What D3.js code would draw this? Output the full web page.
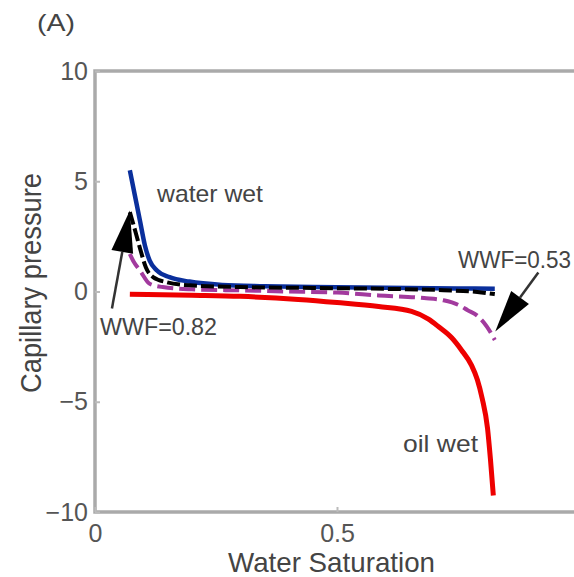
<!DOCTYPE html>
<html>
<head>
<meta charset="utf-8">
<script src="https://cdn.jsdelivr.net/npm/d3@7"></script>
<style>
  html, body { margin: 0; padding: 0; background: #fff; }
  svg { display: block; font-family: "Liberation Sans", Arial, sans-serif; }
</style>
</head>
<body>
<svg id="chart" width="574" height="577"></svg>
<script>
// Capillary pressure vs. water saturation for different wettability states
const xTicks = [0, 0.5];
const yTicks = [-10, -5, 0, 5, 10];

// water wet (blue)
const swWaterWet = [0.072, 0.082, 0.093, 0.103, 0.113, 0.128, 0.154, 0.195, 0.263, 0.35, 0.45, 0.55, 0.65, 0.75, 0.826];
const pcWaterWet = [5.5, 4.4, 3.2, 2.1, 1.4, 0.95, 0.65, 0.45, 0.3, 0.24, 0.2, 0.18, 0.16, 0.14, 0.13];

// WWF = 0.82 (black dashed)
const swWWF082 = [0.072, 0.085, 0.095, 0.105, 0.12, 0.148, 0.195, 0.3, 0.45, 0.6, 0.72, 0.79, 0.826];
const pcWWF082 = [3.6, 2.6, 1.8, 1.1, 0.65, 0.42, 0.28, 0.2, 0.16, 0.12, 0.06, -0.02, -0.12];

// WWF = 0.53 (purple dashed)
const swWWF053 = [0.072, 0.08, 0.093, 0.113, 0.14, 0.2, 0.3, 0.4, 0.5, 0.586, 0.68, 0.72, 0.75, 0.77, 0.79, 0.81, 0.826];
const pcWWF053 = [1.7, 1.35, 0.95, 0.35, 0.2, 0.1, 0.05, 0.0, -0.05, -0.18, -0.3, -0.4, -0.6, -0.85, -1.1, -1.6, -2.2];

// oil wet (red)
const swOilWet = [0.072, 0.2, 0.3, 0.42, 0.5, 0.586, 0.654, 0.689, 0.71, 0.737, 0.757, 0.778, 0.79, 0.8, 0.811, 0.817, 0.823];
const pcOilWet = [-0.12, -0.17, -0.22, -0.36, -0.5, -0.68, -0.9, -1.25, -1.6, -2.1, -2.65, -3.35, -4.0, -4.85, -6.2, -7.6, -9.25];

// annotation arrows: [tail Sw, tail Pc, tip Sw, tip Pc]
const arrowWWF082 = [0.035, -0.77, 0.072, 3.67];
const arrowWWF053 = [0.916, 0.86, 0.827, -1.81];

const svg = d3.select("#chart");

const x = d3.scaleLinear().domain([0, 1]).range([95, 579]);
const y = d3.scaleLinear().domain([-10, 10]).range([512, 71]);

// frame
svg.append("rect")
  .attr("x", x(0)).attr("y", y(10))
  .attr("width", x(1) - x(0)).attr("height", y(-10) - y(10))
  .attr("fill", "none").attr("stroke", "#aaaaaa").attr("stroke-width", 3.5);

// axes
const yAxis = svg.append("g")
  .attr("transform", `translate(${x(0)},0)`)
  .call(d3.axisLeft(y).tickValues(yTicks).tickSizeInner(-5).tickSizeOuter(0).tickPadding(7)
    .tickFormat(d => d < 0 ? "\u2212" + Math.abs(d) : d));
const xAxis = svg.append("g")
  .attr("transform", `translate(0,${y(-10)})`)
  .call(d3.axisBottom(x).tickValues(xTicks).tickSizeInner(-5).tickSizeOuter(0).tickPadding(12)
    .tickFormat(d => d === 0 ? "0" : d3.format(".1f")(d)));
[xAxis, yAxis].forEach(g => {
  g.select(".domain").remove();
  g.selectAll(".tick line").attr("stroke", "#bbbbbb").attr("stroke-width", 2);
  g.selectAll(".tick text").attr("fill", "#555").style("font-size", "25px")
    .style("font-family", "'Liberation Sans', Arial, sans-serif");
});

// curves
const line = d3.line().x(d => x(d[0])).y(d => y(d[1])).curve(d3.curveMonotoneX);
const series = [
  { sw: swOilWet, pc: pcOilWet, color: "#ee0000", width: 5, dash: null },
  { sw: swWaterWet, pc: pcWaterWet, color: "#0a2f9c", width: 4.5, dash: null },
  { sw: swWWF053, pc: pcWWF053, color: "#a23a9e", width: 4, dash: "16,6" },
  { sw: swWWF082, pc: pcWWF082, color: "#000000", width: 4, dash: "13,4" }
];
series.forEach(s => {
  svg.append("path")
    .datum(s.sw.map((v, i) => [v, s.pc[i]]))
    .attr("d", line)
    .attr("fill", "none")
    .attr("stroke", s.color)
    .attr("stroke-width", s.width)
    .attr("stroke-dasharray", s.dash)
    .attr("stroke-linejoin", "round");
});

// arrows
function arrow(a) {
  const x0 = x(a[0]), y0 = y(a[1]), x1 = x(a[2]), y1 = y(a[3]);
  const dx = x1 - x0, dy = y1 - y0, len = Math.hypot(dx, dy);
  const ux = dx / len, uy = dy / len;
  const headLen = 42, halfW = 11;
  const bx = x1 - ux * headLen, by = y1 - uy * headLen;
  svg.append("line")
    .attr("x1", x0).attr("y1", y0).attr("x2", bx).attr("y2", by)
    .attr("stroke", "#333").attr("stroke-width", 2.5);
  svg.append("path")
    .attr("d", `M${x1},${y1}L${bx - uy * halfW},${by + ux * halfW}L${bx + uy * halfW},${by - ux * halfW}Z`)
    .attr("fill", "#000");
}
arrow(arrowWWF082);
arrow(arrowWWF053);

// labels
const txt = (s, tx, ty, size, opts = {}) => {
  const t = svg.append("text").attr("x", tx).attr("y", ty)
    .attr("fill", opts.fill || "#444").style("font-size", size + "px").text(s);
  if (opts.anchor) t.attr("text-anchor", opts.anchor);
  if (opts.len) t.attr("textLength", opts.len).attr("lengthAdjust", "spacingAndGlyphs");
  return t;
};
txt("(A)", 37, 31, 24, { len: 38 });
txt("water wet", 157, 202, 24, { len: 106 });
txt("oil wet", 403, 452, 24, { len: 75 });
txt("WWF=0.82", 100, 335, 23, { len: 117 });
txt("WWF=0.53", 458, 268, 23, { len: 113 });
txt("Water Saturation", 228, 572, 28, { len: 207 });
svg.append("text")
  .attr("transform", "translate(41,393) rotate(-90)")
  .attr("fill", "#444").style("font-size", "29px")
  .attr("textLength", 220).attr("lengthAdjust", "spacingAndGlyphs")
  .text("Capillary pressure");
</script>
</body>
</html>
